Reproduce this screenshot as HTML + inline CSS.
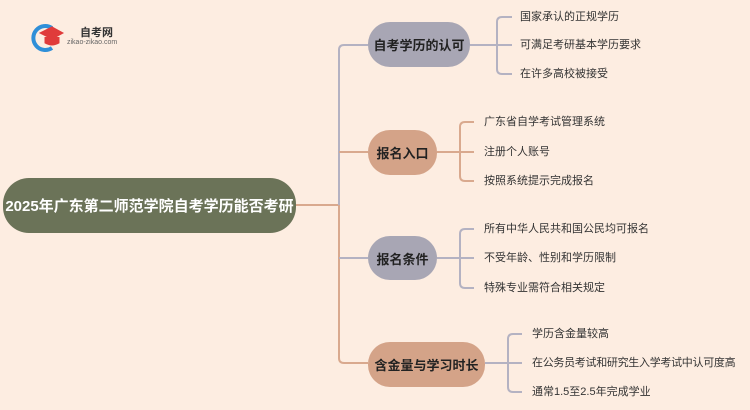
<!DOCTYPE html>
<html><head><meta charset="utf-8"><style>
body{margin:0;width:750px;height:410px;background:#fdede1;overflow:hidden;position:relative;font-family:"Liberation Sans","Noto Sans CJK SC",sans-serif}
.n{position:absolute;display:flex;align-items:center;justify-content:center;font-weight:bold;color:#222;font-size:13px;border-radius:22px;white-space:nowrap}
.l{position:absolute;font-size:11px;color:#333;white-space:nowrap;line-height:16px}
</style></head><body>
<svg width="750" height="410" style="position:absolute;left:0;top:0" fill="none" stroke-width="2">
<path d="M296 205 H339" stroke="#d9a98e"/>
<path d="M368 45 H344 Q339 45 339 50 V205" stroke="#b4b2c2"/>
<path d="M339 205 V358 Q339 363 344 363 H368" stroke="#d9a98e"/>
<path d="M339 152 H368" stroke="#d9a98e"/>
<path d="M339 258 H368" stroke="#b4b2c2"/>
<g stroke="#b4b2c2">
<path d="M470 45 H497 M512 17 H502 Q497 17 497 22 V69 Q497 74 502 74 H512 M497 45 H512"/>
<path d="M437 258 H460 M474 229 H465 Q460 229 460 234 V283 Q460 288 465 288 H474 M460 258 H474"/>
<path d="M485 363 H508 M522 334 H513 Q508 334 508 339 V387 Q508 392 513 392 H522 M508 363 H522"/>
</g>
<g stroke="#d9a98e">
<path d="M437 152 H460 M474 122 H465 Q460 122 460 127 V176 Q460 181 465 181 H474 M460 152 H474"/>
</g>
<path d="M52 28 A12 12 0 1 0 52 48" stroke="#2f8fd8" stroke-width="4"/>
<path d="M40 33 L52 27 L63 33 L52 39 Z" fill="#e03b3b" stroke="#e03b3b" stroke-width="1"/>
<path d="M45 37 V43 Q52 47 59 43 V37" fill="#e03b3b" stroke="#e03b3b" stroke-width="1"/>
</svg>
<div style="position:absolute;left:80px;top:24px;font-size:11px;font-weight:bold;color:#333;white-space:nowrap">自考网</div>
<div style="position:absolute;left:67px;top:39px;font-size:7px;color:#666;white-space:nowrap">zikao-zikao.com</div>
<div class="n" style="left:3px;top:178px;width:293px;height:55px;background:#6b7358;color:#fff;font-size:15px;border-radius:26px">2025年广东第二师范学院自考学历能否考研</div>
<div class="n" style="left:368px;top:22px;width:102px;height:45px;background:#a8a6b4">自考学历的认可</div>
<div class="n" style="left:368px;top:130px;width:69px;height:45px;background:#d4a388">报名入口</div>
<div class="n" style="left:368px;top:236px;width:69px;height:44px;background:#a8a6b4">报名条件</div>
<div class="n" style="left:368px;top:342px;width:117px;height:45px;background:#d4a388">含金量与学习时长</div>
<div class="l" style="left:520px;top:9px">国家承认的正规学历</div>
<div class="l" style="left:520px;top:37px">可满足考研基本学历要求</div>
<div class="l" style="left:520px;top:66px">在许多高校被接受</div>
<div class="l" style="left:484px;top:114px">广东省自学考试管理系统</div>
<div class="l" style="left:484px;top:144px">注册个人账号</div>
<div class="l" style="left:484px;top:173px">按照系统提示完成报名</div>
<div class="l" style="left:484px;top:221px">所有中华人民共和国公民均可报名</div>
<div class="l" style="left:484px;top:250px">不受年龄、性别和学历限制</div>
<div class="l" style="left:484px;top:280px">特殊专业需符合相关规定</div>
<div class="l" style="left:532px;top:326px">学历含金量较高</div>
<div class="l" style="left:532px;top:355px;letter-spacing:-0.3px">在公务员考试和研究生入学考试中认可度高</div>
<div class="l" style="left:532px;top:384px">通常1.5至2.5年完成学业</div>
</body></html>
